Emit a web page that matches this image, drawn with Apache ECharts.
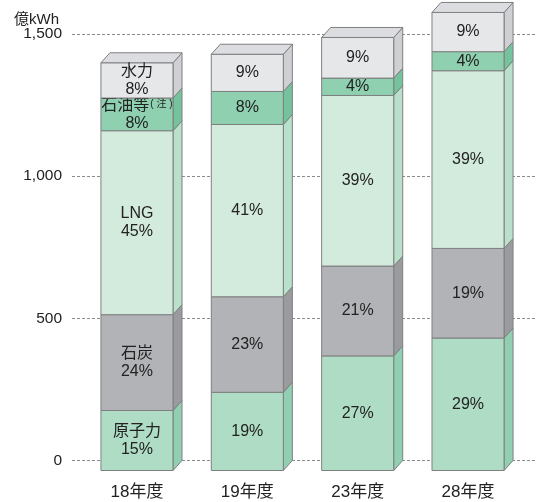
<!DOCTYPE html>
<html><head><meta charset="utf-8">
<script src="https://cdn.jsdelivr.net/npm/echarts@6/dist/echarts.min.js"></script>
<style>html,body{margin:0;padding:0;background:#fff}#c{width:539px;height:502px}</style>
</head><body><div id="c"></div>
<script>
var categories = ['18年度', '19年度', '23年度', '28年度'];
var yTicks = [0, 500, 1000, 1500];
var segNames = ['原子力', '石炭', 'LNG', '石油等', '水力'];
var nuclear = [211, 275, 403, 466];
var coal = [337, 336, 316, 315];
var lng = [647, 606, 600, 625];
var oil = [115, 116, 61, 67];
var hydro = [124, 131, 143, 138];
var nuclearPct = ['15%', '19%', '27%', '29%'];
var coalPct = ['24%', '23%', '21%', '19%'];
var lngPct = ['45%', '41%', '39%', '39%'];
var oilPct = ['8%', '8%', '4%', '4%'];
var hydroPct = ['8%', '9%', '9%', '9%'];

var segValues = [nuclear, coal, lng, oil, hydro];
var segPcts = [nuclearPct, coalPct, lngPct, oilPct, hydroPct];
var frontColors = ['#aedcc4', '#b2b3b7', '#d3ebdd', '#8fd0b0', '#e6e7e9'];
var sideColors = ['#90cfb1', '#9a9b9f', '#b8e0ca', '#74c39e', '#cfd0d3'];
var topColor = '#dcdde0';
var edge = '#7f7f7f';
var FONT = "'Liberation Sans','Noto Sans CJK JP',sans-serif";
var DX = 9, DY = 10;

var series = [];
var base = categories.map(function () { return 0; });
segValues.forEach(function (vals, s) {
  var data = vals.map(function (v, i) {
    var d = [i, base[i], base[i] + v];
    return d;
  });
  vals.forEach(function (v, i) { base[i] += v; });
  var isTop = s === segValues.length - 1;
  series.push({
    type: 'custom',
    name: segNames[s],
    xAxisIndex: 1, yAxisIndex: 1,
    clip: false,
    data: data,
    z: 10 + s,
    renderItem: function (params, api) {
      var idx = api.value(0);
      var p0 = api.coord([idx, api.value(1)]);
      var p1 = api.coord([idx, api.value(2)]);
      var w = api.size([1, 0])[0] * 0.653;
      var x = p0[0] - w / 2;
      var yb = p0[1] + DY, yt = p1[1] + DY;
      var children = [];
      children.push({
        type: 'polygon',
        shape: { points: [[x + w, yt], [x + w + DX, yt - DY], [x + w + DX, yb - DY], [x + w, yb]] },
        style: { fill: sideColors[s], stroke: edge, lineWidth: 1 }
      });
      children.push({
        type: 'rect',
        shape: { x: x, y: yt, width: w, height: yb - yt },
        style: { fill: frontColors[s], stroke: edge, lineWidth: 1 }
      });
      if (isTop) {
        children.push({
          type: 'polygon',
          shape: { points: [[x, yt], [x + DX, yt - DY], [x + w + DX, yt - DY], [x + w, yt]] },
          style: { fill: topColor, stroke: edge, lineWidth: 1 }
        });
      }
      var pct = segPcts[s][idx];
      var txt, rich = {
        n: { fontSize: 16, fontFamily: FONT, fill: '#222', lineHeight: 18 },
        sm: { fontSize: 10, fontFamily: FONT, fill: '#222', lineHeight: 18, padding: [0, 0, 3, 1] }
      };
      if (idx === 0) {
        if (s === 3) txt = '{n|' + segNames[s] + '}{sm|( 注 )}\n{n|' + pct + '}';
        else txt = '{n|' + segNames[s] + '}\n{n|' + pct + '}';
      } else {
        txt = '{n|' + pct + '}';
      }
      children.push({
        type: 'text',
        style: {
          text: txt, x: x + w / 2, y: (yt + yb) / 2,
          align: 'center', verticalAlign: 'middle', rich: rich,
          fontSize: 16, fontFamily: FONT, fill: '#222'
        }
      });
      return { type: 'group', children: children };
    }
  });
});

var chart = echarts.init(document.getElementById('c'), null, { renderer: 'canvas' });
chart.setOption({
  animation: false,
  backgroundColor: '#fff',
  grid: [
    { left: 72, right: 2, top: 34, bottom: 41.5 },
    { left: 81.8, right: 15.8, top: 34, bottom: 41.5 }
  ],
  xAxis: [
    { type: 'category', gridIndex: 0, data: categories, show: false },
    {
      type: 'category', gridIndex: 1, data: categories,
      axisLine: { show: false }, axisTick: { show: false },
      axisLabel: { margin: 23, fontSize: 17, color: '#222', fontFamily: FONT }
    }
  ],
  yAxis: [
    {
      type: 'value', gridIndex: 0, min: yTicks[0], max: yTicks[yTicks.length - 1], interval: 500,
      axisLine: { show: false }, axisTick: { show: false },
      axisLabel: {
        margin: 10, fontSize: 15.5, color: '#222', fontFamily: FONT,
        formatter: function (v) { return v.toLocaleString('en-US'); }
      },
      splitLine: { show: true, lineStyle: { color: '#8a8a8a', width: 1, type: [3, 2] } }
    },
    {
      type: 'value', gridIndex: 1, min: yTicks[0], max: yTicks[yTicks.length - 1], interval: 500,
      show: false, splitLine: { show: false }
    }
  ],
  graphic: [
    {
      type: 'text', left: 14, top: 12,
      style: { text: '億kWh', fontSize: 15, fontFamily: FONT, fill: '#222' }
    }
  ],
  series: series
});
</script>
</body></html>
